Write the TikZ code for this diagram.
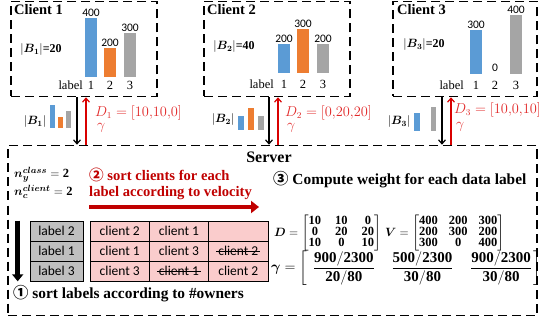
\documentclass[tikz,border=0pt]{standalone}
\usepackage{fontspec}
\usepackage{amsmath}
\usepackage{bm}
\setmainfont{Liberation Serif}
\newfontfamily\cellfont{Carlito}
\newfontfamily\circfont{Noto Sans CJK SC}
\usetikzlibrary{positioning, arrows.meta, calc}

\definecolor{barblue}{RGB}{91,155,213}
\definecolor{barorange}{RGB}{237,125,49}
\definecolor{bargray}{RGB}{165,165,165}
\definecolor{darkred}{RGB}{192,0,0}
\definecolor{lightred}{RGB}{225,40,40}
\definecolor{pinkcell}{RGB}{250,204,204}
\definecolor{graycell}{RGB}{191,191,191}

\newcommand\strikeout[1]{\setbox0\hbox{#1}\rlap{\kern-2pt\rule[0.25em]{\dimexpr\wd0+4pt\relax}{0.8pt}}\box0}
\newcommand\bd[1]{\mathbf{#1}}
\newcommand\fr[2]{\renewcommand\arraystretch{1.15}\begin{array}{@{}c@{}}\bd{#1}\\\hline\bd{#2}\end{array}}

\tikzset{
	dashbox/.style={draw, dash pattern=on 9pt off 5pt, line width=1.6pt, inner sep=0pt},
	title/.style={font=\fontsize{14.5}{15}\selectfont\bfseries, anchor=west, inner sep=0pt},
	bsize/.style={font=\fontsize{12}{13}\selectfont\bfseries, inner sep=0pt},
	val/.style={font=\cellfont\fontsize{11.5}{12}\selectfont, inner sep=1pt, above},
	axis/.style={font=\fontsize{12.5}{13}\selectfont, inner sep=0pt},
	upload/.style={-{Straight Barb[length=4pt,width=7pt]}, line width=1.2pt},
	feedback/.style={-{Straight Barb[length=4pt,width=7pt]}, line width=1.2pt, red!85!black},
	redtext/.style={font=\fontsize{13.5}{14}\selectfont, text=lightred, anchor=west, inner sep=0pt},
	cell/.style={draw, line width=0.6pt, fill=pinkcell, minimum width=59.3pt, minimum height=20pt, inner sep=0pt, font=\cellfont\fontsize{13.5}{14}\selectfont},
	labcell/.style={cell, fill=graycell, minimum width=53pt},
	step text/.style={font=\fontsize{15.4}{16}\selectfont\bfseries, inner sep=0pt, anchor=west},
	mathtext/.style={font=\fontsize{12.5}{13}\selectfont, inner sep=0pt}
}

\begin{document}
\begin{tikzpicture}[x=1pt, y=-1pt]
	\useasboundingbox (0,0) rectangle (540,323);

	% Boxes
	\node[dashbox, minimum width=146pt, minimum height=95pt] (client1) at (84,49) {};
	\node[dashbox, minimum width=146pt, minimum height=95pt] (client2) at (277,49) {};
	\node[dashbox, minimum width=144pt, minimum height=95pt] (client3) at (465,49) {};
	\node[dashbox, minimum width=529pt, minimum height=170pt] (server) at (272.5,230.5) {};

	% Client 1
	\node[title] (t1) at (14,10) {Client 1};
	\node[bsize] (b1) at (41,50) {$|\bm{B_1}|$=20};
	\fill[barblue] (85,77) rectangle (97,18);
	\fill[barorange] (104,77) rectangle (116,47.6);
	\fill[bargray] (124,77) rectangle (136,32.9);
	\node[val] (v11) at (91,18) {400};
	\node[val] (v12) at (110,47.6) {200};
	\node[val] (v13) at (130,32.9) {300};
	\node[axis, anchor=east] (x1) at (83,85) {label};
	\node[axis] (x11) at (91,85) {1};
	\node[axis] (x12) at (110,85) {2};
	\node[axis] (x13) at (130,85) {3};

	% Client 2
	\node[title] (t2) at (207,10) {Client 2};
	\node[bsize] (b2) at (234,47) {$|\bm{B_2}|$=40};
	\fill[barblue] (278,73) rectangle (290,43.6);
	\fill[barorange] (297,73) rectangle (309,28.9);
	\fill[bargray] (317,73) rectangle (329,43.6);
	\node[val] (v21) at (284,43.6) {200};
	\node[val] (v22) at (303,28.9) {300};
	\node[val] (v23) at (323,43.6) {200};
	\node[axis, anchor=east] (x2) at (274,84) {label};
	\node[axis] (x21) at (284,84) {1};
	\node[axis] (x22) at (303,84) {2};
	\node[axis] (x23) at (323,84) {3};

	% Client 3
	\node[title] (t3) at (397,10) {Client 3};
	\node[bsize] (b3) at (424,45) {$|\bm{B_3}|$=20};
	\fill[barblue] (470,74) rectangle (482,29.9);
	\fill[bargray] (510,74) rectangle (522,15);
	\node[val] (v31) at (476,29.9) {300};
	\node[val] (v32) at (495,73) {0};
	\node[val] (v33) at (516,15) {400};
	\node[axis, anchor=east] (x3) at (464,85) {label};
	\node[axis] (x31) at (476,85) {1};
	\node[axis] (x32) at (495,85) {2};
	\node[axis] (x33) at (516,85) {3};

	% Uploads and feedback
	\coordinate (a1) at (77,0);
	\coordinate (r1) at (86,0);
	\coordinate (a2) at (269,0);
	\coordinate (r2) at (278,0);
	\coordinate (a3) at (442,0);
	\coordinate (r3) at (451,0);
	\draw[upload] (client1.south -| a1) -- (server.north -| a1);
	\draw[feedback] (server.north -| r1) -- (client1.south -| r1);
	\draw[upload] (client2.south -| a2) -- (server.north -| a2);
	\draw[feedback] (server.north -| r2) -- (client2.south -| r2);
	\draw[upload] (client3.south -| a3) -- (server.north -| a3);
	\draw[feedback] (server.north -| r3) -- (client3.south -| r3);

	\node[bsize] (m1) at (35,122) {$|\bm{B_1}|$};
	\fill[barblue] (50,128) rectangle (55,105);
	\fill[barorange] (58,128) rectangle (63,117);
	\fill[bargray] (66,128) rectangle (71,111);
	\node[redtext] (d1) at (95,113) {$D_1=[10{,}10{,}0]$};
	\node[redtext] (g1) at (97,128) {$\gamma$};

	\node[bsize] (m2) at (223,120) {$|\bm{B_2}|$};
	\fill[barblue] (238,130) rectangle (244,116);
	\fill[barorange] (248,130) rectangle (254,108);
	\fill[bargray] (258,130) rectangle (264,116);
	\node[redtext] (d2) at (285,113) {$D_2=[0{,}20{,}20]$};
	\node[redtext] (g2) at (287,128) {$\gamma$};

	\node[bsize] (m3) at (399,122) {$|\bm{B_3}|$};
	\fill[barblue] (414,131) rectangle (420,113);
	\fill[bargray] (431,131) rectangle (436,107);
	\node[redtext] (d3) at (454,110) {$D_3=[10{,}0{,}10]$};
	\node[redtext] (g3) at (456,127) {$\gamma$};

	% Server
	\node[font=\fontsize{16}{16}\selectfont\bfseries] (srv) at (269,157) {Server};
	\node[mathtext, anchor=west] (ny) at (14,175) {$\bm{n_y^{class}}=\bd{2}$};
	\node[mathtext, anchor=west] (nc) at (14,192) {$\bm{n_c^{client}}=\bd{2}$};
	\node[step text, text=darkred, align=left, font=\fontsize{14.6}{16}\selectfont\bfseries] (s2) at (89,184) {{\circfont ②} sort clients for each\\label according to velocity};
	\node[step text] (s3) at (273,180) {{\circfont ③} Compute weight for each data label};
	\node[step text] (s1) at (13,294) {{\circfont ①} sort labels according to \#owners};
	\coordinate (s2a) at (89,207);
	\coordinate (s2b) at (259,207);
	\draw[darkred, line width=4pt, -{Triangle[length=8pt,width=12pt]}] (s2a) -- (s2b);

	% Table
	\node[labcell] (l1) at (56.5,231) {label 2};
	\node[labcell] (l2) at (56.5,251) {label 1};
	\node[labcell] (l3) at (56.5,271) {label 3};
	\node[cell] (c11) at (119.7,231) {client 2};
	\node[cell] (c12) at (179,231) {client 1};
	\node[cell] (c13) at (238.3,231) {};
	\node[cell] (c21) at (119.7,251) {client 1};
	\node[cell] (c22) at (179,251) {client 3};
	\node[cell] (c23) at (238.3,251) {\strikeout{client 2}};
	\node[cell] (c31) at (119.7,271) {client 3};
	\node[cell] (c32) at (179,271) {\strikeout{client 1}};
	\node[cell] (c33) at (238.3,271) {client 2};
	\draw[line width=4.5pt, -{Triangle[length=7pt,width=11pt]}] (l1.north west) ++(-12,0) coordinate (o1) -- (o1 |- l3.south);

	% Matrices
	\node[mathtext, anchor=west] (dm) at (274,233) {\renewcommand\arraystretch{0.78}\setlength\arraycolsep{7pt}$\bm{D}=\begin{bmatrix}\bd{10}&\bd{10}&\bd{0}\\\bd{0}&\bd{20}&\bd{20}\\\bd{10}&\bd{0}&\bd{10}\end{bmatrix}$};
	\node[mathtext, anchor=west] (vm) at (385,233) {\renewcommand\arraystretch{0.78}\setlength\arraycolsep{5.5pt}$\bm{V}=\begin{bmatrix}\bd{400}&\bd{200}&\bd{300}\\\bd{200}&\bd{300}&\bd{200}\\\bd{300}&\bd{0}&\bd{400}\end{bmatrix}$};
	\node[mathtext, anchor=west, font=\fontsize{15}{16}\selectfont] (gm) at (271,268) {$\bm{\gamma}=\left[\hspace{7pt}\fr{900/2300}{20/80}\hspace{19pt}\fr{500/2300}{30/80}\hspace{19pt}\fr{900/2300}{30/80}\hspace{3pt}\right]$};
\end{tikzpicture}
\end{document}
